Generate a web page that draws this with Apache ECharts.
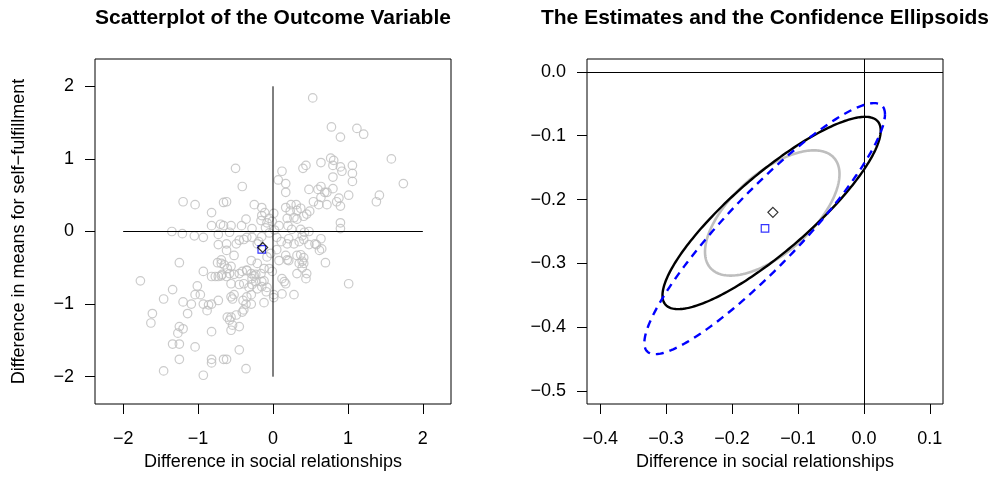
<!DOCTYPE html>
<html>
<head>
<meta charset="utf-8">
<script src="https://cdn.jsdelivr.net/npm/echarts@6/dist/echarts.min.js"></script>
<style>
  html, body { margin: 0; padding: 0; background: #ffffff; }
  #chart { width: 996px; height: 493px; }
</style>
</head>
<body>
<div id="chart"></div>
<script>
// Paired differences: [social relationships, self-fulfillment]
const outcomePoints = [
  [0.53,1.84],[0.78,1.44],[0.90,1.30],[1.12,1.42],[1.21,1.34],[1.58,1.00],[1.74,0.66],[0.77,1.01],[0.81,0.98],
  [0.80,0.91],[0.90,0.89],[0.92,0.83],[1.06,0.91],[1.06,0.80],[1.06,0.69],[0.80,0.75],[0.80,0.59],[0.72,0.54],
  [1.01,0.50],[0.88,0.46],[0.85,0.41],[0.90,0.35],[0.72,0.37],[1.42,0.50],[1.38,0.41],[0.90,0.12],[0.90,0.04],
  [0.70,-0.43],[1.01,-0.72],
  [-0.50,0.87],[-0.41,0.62],[-0.62,0.41],[0.12,0.83],[0.07,0.71],[0.17,0.66],[0.17,0.54],[0.40,0.87],[0.44,0.91],
  [0.64,0.95],[0.48,0.58],[0.60,0.58],[0.64,0.62],[0.69,0.54],[0.64,0.47],[0.54,0.41],[0.61,0.37],[-0.25,0.37],
  [-0.15,0.33],[0.17,0.33],[0.24,0.37],[0.31,0.37],[0.23,0.28],[0.37,0.32],[0.41,0.21],[0.32,0.17],[0.45,0.24],
  [0.49,0.28],[-0.15,0.22],[-0.11,0.26],[-0.05,0.18],[-0.08,0.12],[-0.01,0.14],[0.01,0.25],[-0.36,0.17],
  [-0.42,0.08],[-0.56,0.08],[-0.66,0.08],[-0.28,0.04],[0.08,0.08],[0.20,0.08],[0.25,0.03],[0.37,0.03],[0.48,0.00],
  [-1.20,0.41],[-1.04,0.37],[-0.82,0.26],[-0.82,0.08],[-0.70,0.10],[-1.35,0.00],[-1.21,-0.03],[-1.05,-0.06],
  [-0.93,-0.08],[-0.66,0.40],
  [-0.73,-0.04],[-0.73,-0.18],[-1.25,-0.43],[-1.77,-0.68],[-0.93,-0.55],[-0.82,-0.62],[-0.77,-0.62],[-0.73,-0.62],
  [-0.69,-0.61],[-0.74,-0.43],[-0.69,-0.39],[-1.01,-0.75],[-1.34,-0.80],[-1.46,-0.93],[-1.04,-0.87],[-0.97,-0.87],
  [-1.20,-0.97],[-1.09,-1.00],[-0.93,-1.00],[-0.86,-1.01],[-0.82,-1.00],[-0.88,-1.09],[-0.73,-0.95],[-1.14,-1.13],
  [-1.61,-1.13],[-1.63,-1.26],[-1.25,-1.31],[-1.20,-1.34],[-1.27,-1.40],[-0.82,-1.38],[-1.34,-1.55],[-1.25,-1.55],
  [-1.04,-1.59],[-1.25,-1.76],[-0.82,-1.76],[-0.82,-1.81],[-1.46,-1.92],[-0.93,-1.98],[-0.66,-1.76],
  [-0.62,-0.17],[-0.49,-0.17],[-0.39,-0.11],[-0.28,-0.08],[-0.19,-0.14],[-0.15,-0.07],[0.11,-0.14],[0.19,-0.17],
  [0.28,-0.17],[0.35,-0.14],[0.41,-0.11],[0.48,-0.18],[0.58,-0.18],[0.64,-0.10],[0.65,-0.24],[0.17,-0.33],
  [0.19,-0.39],[0.32,-0.33],[0.37,-0.32],[0.35,-0.44],[0.39,-0.41],[-0.69,-0.44],[-0.65,-0.46],[-0.61,-0.51],
  [-0.56,-0.48],[-0.68,-0.59],[-0.62,-0.62],[-0.58,-0.58],[-0.52,-0.59],[-0.45,-0.58],[-0.41,-0.55],[-0.35,-0.53],
  [-0.29,-0.58],[-0.28,-0.65],[-0.23,-0.59],[-0.16,-0.58],[-0.12,-0.51],[-0.05,-0.51],[-0.01,-0.55],[0.12,-0.65],
  [0.15,-0.69],[0.17,-0.72],[0.32,-0.58],[0.45,-0.58],[0.44,-0.65],[-0.56,-0.72],[-0.45,-0.73],[-0.39,-0.72],
  [-0.28,-0.73],[-0.23,-0.69],[-0.15,-0.69],[-0.15,-0.76],[-0.09,-0.83],[0.01,-0.87],[0.12,-0.86],[0.28,-0.87],
  [-0.56,-0.90],[-0.52,-0.87],[-0.54,-0.93],[-0.35,-0.90],[-0.29,-0.87],[-0.36,-1.00],[-0.39,-1.08],[-0.41,-1.11],
  [-0.49,-1.15],[-0.61,-1.18],[-0.56,-1.18],[-0.58,-1.22],[-0.54,-1.29],[-0.56,-1.36],[-0.45,-1.31],[-0.45,-1.63],
  [-0.62,-1.76],[-0.36,-1.89],
  [-0.35,-0.08],[-0.21,-0.17],[0.05,-0.08],[0.21,-0.10],[0.39,-0.06],[0.21,-0.40],[0.39,-0.50],[-0.29,-0.40],
  [-0.21,-0.44],[-0.35,-0.54],[-0.25,-0.61],[-0.12,-0.68],[-0.32,-0.77],[-0.21,-0.79],[-0.08,-0.77],[0.01,-0.91],
  [-0.29,-1.00],[-0.12,-0.98],[-0.16,0.15],[0.28,0.19],[0.19,0.18],[0.32,0.29],[0.42,-0.01],[0.56,-0.17],
  [0.62,-0.26],[0.41,-0.36],[0.41,-0.44],[-0.58,-0.01],[-0.45,-0.12],[-0.62,-0.26],[-0.52,-0.33],[-0.40,-0.95],
  [-0.05,-0.02],[0.02,0.02],[-0.10,0.05],[0.05,-0.25],[-0.03,-0.30],[0.08,-0.40],[-0.08,-0.35]
];

// Point estimates (diamond: sample means, square: alternative estimate)
const estimateMean = [-0.138, -0.220];
const estimateAlt = [-0.150, -0.245];

// Confidence ellipses: [centre x, centre y, sd x, sd y, correlation]
const ellipseBlack = [-0.140, -0.221, 0.1655, 0.1505, 0.857];
const ellipseGray  = [-0.139, -0.221, 0.102, 0.098, 0.62];
const ellipseBlue  = [-0.1505, -0.2455, 0.1825, 0.1965, 0.91];

// Axis ticks
const leftTicks = [-2, -1, 0, 1, 2];
const rightXTicks = [-0.4, -0.3, -0.2, -0.1, 0.0, 0.1];
const rightYTicks = [0.0, -0.1, -0.2, -0.3, -0.4, -0.5];

// Reference cross drawn in the scatterplot
const crossSpan = [-2, 2];

const FONT = '"Liberation Sans", Arial, Helvetica, sans-serif';
const minus = s => String(s).replace('-', '\u2212');

function ellipseRenderer(color, width, dash) {
  return function (params, api) {
    const cx = api.value(0), cy = api.value(1);
    const sx = api.value(2), sy = api.value(3), r = api.value(4);
    const n = 240;
    const pts = [];
    for (let i = 0; i <= n; i++) {
      const t = 2 * Math.PI * i / n;
      const dx = sx * Math.cos(t);
      const dy = sy * (r * Math.cos(t) + Math.sqrt(1 - r * r) * Math.sin(t));
      pts.push(api.coord([cx + dx, cy + dy]));
    }
    return {
      type: 'polyline',
      shape: { points: pts },
      style: { stroke: color, lineWidth: width, fill: null, lineDash: dash || null }
    };
  };
}

function valueAxis(gridIndex, min, max, ticks, fmt, isX, name, nameGap) {
  return {
    type: 'value',
    gridIndex: gridIndex,
    min: min,
    max: max,
    name: name || '',
    nameLocation: 'middle',
    nameGap: nameGap || 0,
    nameTextStyle: { fontSize: 18, color: '#000', fontFamily: FONT },
    axisLine: { show: false, onZero: false },
    splitLine: { show: false },
    axisTick: {
      show: true, length: 10, inside: false,
      customValues: ticks,
      lineStyle: { color: '#000', width: 1 }
    },
    axisLabel: {
      show: true,
      customValues: ticks,
      formatter: fmt,
      margin: isX ? 26 : 21,
      fontSize: 18,
      color: '#000',
      fontFamily: FONT,
      showMinLabel: true,
      showMaxLabel: true,
      hideOverlap: false
    }
  };
}

const fmtInt = v => minus(Math.round(v));
const fmtOne = v => minus((Math.round(v * 10) / 10).toFixed(1));

const chart = echarts.init(document.getElementById('chart'), null, { renderer: 'canvas' });

chart.setOption({
  backgroundColor: '#ffffff',
  animation: false,
  textStyle: { fontFamily: FONT },
  graphic: [
    {
      type: 'text', x: 273, y: 18,
      style: {
        text: 'Scatterplot of the Outcome Variable',
        fontSize: 21, fontWeight: 'bold', fontFamily: FONT,
        fill: '#000', align: 'center', verticalAlign: 'middle'
      }
    },
    {
      type: 'text', x: 765, y: 18,
      style: {
        text: 'The Estimates and the Confidence Ellipsoids',
        fontSize: 21, fontWeight: 'bold', fontFamily: FONT,
        fill: '#000', align: 'center', verticalAlign: 'middle'
      }
    }
  ],
  grid: [
    { left: 95, right: 545, top: 59, bottom: 89, show: true, borderColor: '#000', borderWidth: 1, backgroundColor: 'transparent' },
    { left: 587, right: 53, top: 59, bottom: 89, show: true, borderColor: '#000', borderWidth: 1, backgroundColor: 'transparent' }
  ],
  xAxis: [
    valueAxis(0, -2.376, 2.376, leftTicks, fmtInt, true, 'Difference in social relationships', 48),
    valueAxis(1, -0.42, 0.12, rightXTicks, fmtOne, true, 'Difference in social relationships', 48)
  ],
  yAxis: [
    valueAxis(0, -2.376, 2.376, leftTicks, fmtInt, false, 'Difference in means for self\u2212fulfillment', 67),
    valueAxis(1, -0.52, 0.02, rightYTicks, fmtOne, false, '', 0)
  ],
  series: [
    {
      type: 'scatter', xAxisIndex: 0, yAxisIndex: 0, silent: true,
      symbol: 'circle', symbolSize: 8.5,
      itemStyle: { color: 'rgba(0,0,0,0)', borderColor: '#bebebe', borderWidth: 1.2 },
      data: outcomePoints, z: 2
    },
    {
      type: 'line', xAxisIndex: 0, yAxisIndex: 0, silent: true, symbol: 'none',
      lineStyle: { color: '#000', width: 1 },
      data: crossSpan.map(v => [v, 0]), z: 3
    },
    {
      type: 'line', xAxisIndex: 0, yAxisIndex: 0, silent: true, symbol: 'none',
      lineStyle: { color: '#000', width: 1 },
      data: crossSpan.map(v => [0, v]), z: 3
    },
    {
      type: 'scatter', xAxisIndex: 0, yAxisIndex: 0, silent: true,
      symbol: 'rect', symbolSize: 7.5,
      itemStyle: { color: 'rgba(0,0,0,0)', borderColor: '#0000ff', borderWidth: 1.2 },
      data: [estimateAlt], z: 4
    },
    {
      type: 'scatter', xAxisIndex: 0, yAxisIndex: 0, silent: true,
      symbol: 'diamond', symbolSize: 10,
      itemStyle: { color: 'rgba(0,0,0,0)', borderColor: '#000', borderWidth: 1.2 },
      data: [estimateMean], z: 5
    },
    // Right panel: reference lines at zero
    {
      type: 'line', xAxisIndex: 1, yAxisIndex: 1, silent: true, symbol: 'none',
      data: [],
      markLine: {
        silent: true, symbol: ['none', 'none'],
        label: { show: false },
        lineStyle: { color: '#000', width: 1, type: 'solid' },
        data: [{ yAxis: 0 }, { xAxis: 0 }]
      }
    },
    {
      type: 'custom', xAxisIndex: 1, yAxisIndex: 1, silent: true,
      dimensions: ['cx', 'cy', 'sx', 'sy', 'rho'],
      encode: { x: 0, y: 1 },
      renderItem: ellipseRenderer('#bebebe', 2.6),
      data: [ellipseGray], z: 3
    },
    {
      type: 'custom', xAxisIndex: 1, yAxisIndex: 1, silent: true,
      dimensions: ['cx', 'cy', 'sx', 'sy', 'rho'],
      encode: { x: 0, y: 1 },
      renderItem: ellipseRenderer('#000000', 2.4),
      data: [ellipseBlack], z: 4
    },
    {
      type: 'custom', xAxisIndex: 1, yAxisIndex: 1, silent: true,
      dimensions: ['cx', 'cy', 'sx', 'sy', 'rho'],
      encode: { x: 0, y: 1 },
      renderItem: ellipseRenderer('#0000ff', 2.4, [8, 6]),
      data: [ellipseBlue], z: 5
    },
    {
      type: 'scatter', xAxisIndex: 1, yAxisIndex: 1, silent: true,
      symbol: 'diamond', symbolSize: 10,
      itemStyle: { color: 'rgba(0,0,0,0)', borderColor: '#000', borderWidth: 1.2 },
      data: [estimateMean], z: 6
    },
    {
      type: 'scatter', xAxisIndex: 1, yAxisIndex: 1, silent: true,
      symbol: 'rect', symbolSize: 7.5,
      itemStyle: { color: 'rgba(0,0,0,0)', borderColor: '#0000ff', borderWidth: 1.2 },
      data: [estimateAlt], z: 6
    }
  ]
});
</script>
</body>
</html>
